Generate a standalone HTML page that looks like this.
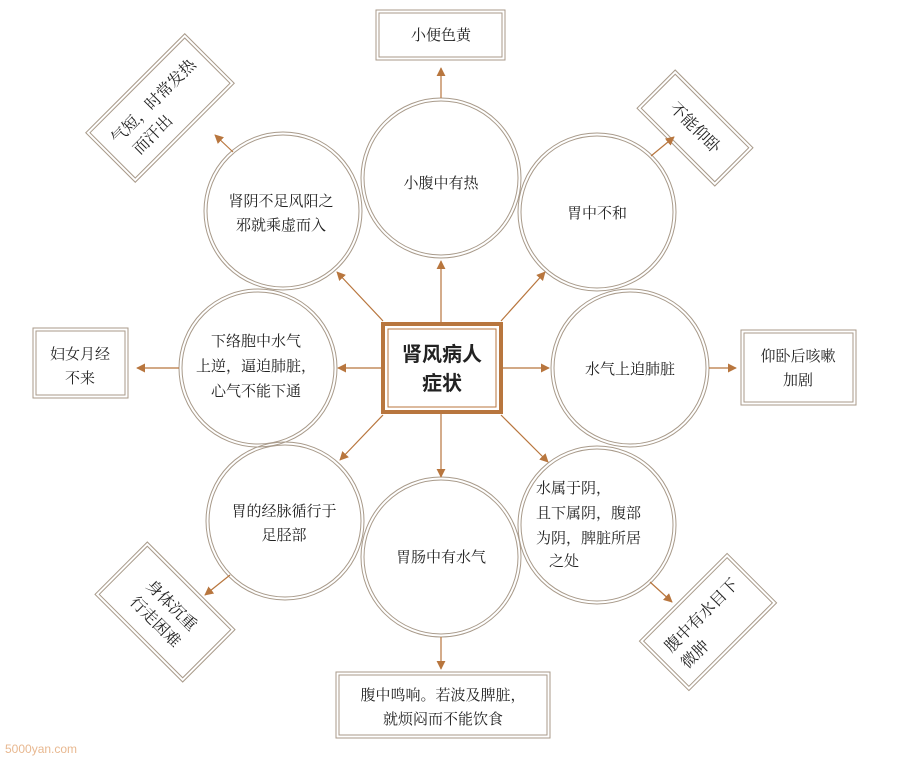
<!DOCTYPE html>
<html><head><meta charset="utf-8"><style>
body{margin:0;background:#fff;width:900px;height:762px;overflow:hidden}
text{font-family:"Liberation Serif","Noto Serif CJK SC",serif;font-size:15px;fill:#222}
</style></head><body>
<svg width="900" height="762" viewBox="0 0 900 762">
<defs><marker id="a" viewBox="0 0 10 10" refX="9" refY="5" markerWidth="9" markerHeight="9" orient="auto-start-reverse" markerUnits="userSpaceOnUse"><path d="M0,0 L10,5 L0,10 z" fill="#b8763e"/></marker></defs>
<g fill="none" stroke="#a89a8a" stroke-width="1">
<circle cx="441" cy="178" r="80"/><circle cx="441" cy="178" r="77"/>
<circle cx="283" cy="211" r="79"/><circle cx="283" cy="211" r="76"/>
<circle cx="597" cy="212" r="79"/><circle cx="597" cy="212" r="76"/>
<circle cx="258" cy="368" r="79"/><circle cx="258" cy="368" r="76"/>
<circle cx="630" cy="368" r="79"/><circle cx="630" cy="368" r="76"/>
<circle cx="285" cy="521" r="79"/><circle cx="285" cy="521" r="76"/>
<circle cx="441" cy="557" r="80"/><circle cx="441" cy="557" r="77"/>
<circle cx="597" cy="525" r="79"/><circle cx="597" cy="525" r="76"/>
<rect x="376" y="10" width="129" height="50"/><rect x="379" y="13" width="123" height="44"/>
<rect x="33" y="328" width="95" height="70"/><rect x="36" y="331" width="89" height="64"/>
<rect x="741" y="330" width="115" height="75"/><rect x="744" y="333" width="109" height="69"/>
<rect x="336" y="672" width="214" height="66"/><rect x="339" y="675" width="208" height="60"/>
<g transform="translate(160,108) rotate(-45)"><rect x="-70" y="-35" width="140" height="70"/><rect x="-67" y="-32" width="134" height="64"/></g>
<g transform="translate(695,128) rotate(45)"><rect x="-55" y="-27" width="110" height="54"/><rect x="-52" y="-24" width="104" height="48"/></g>
<g transform="translate(165,612) rotate(45)"><rect x="-62" y="-37" width="124" height="74"/><rect x="-59" y="-34" width="118" height="68"/></g>
<g transform="translate(708,622) rotate(-45)"><rect x="-62" y="-35" width="124" height="70"/><rect x="-59" y="-32" width="118" height="64"/></g>
</g>
<g stroke="#b8763e" stroke-width="1.2" marker-end="url(#a)">
<line x1="441" y1="322" x2="441" y2="261"/>
<line x1="381" y1="368" x2="338" y2="368"/>
<line x1="503" y1="368" x2="549" y2="368"/>
<line x1="441" y1="414" x2="441" y2="477"/>
<line x1="383" y1="321" x2="337" y2="272"/>
<line x1="501" y1="321" x2="545" y2="272"/>
<line x1="383" y1="415" x2="340" y2="460"/>
<line x1="501" y1="415" x2="548" y2="462"/>
<line x1="441" y1="98" x2="441" y2="68"/>
<line x1="233" y1="152" x2="215" y2="135"/>
<line x1="651" y1="156" x2="674" y2="137"/>
<line x1="179" y1="368" x2="137" y2="368"/>
<line x1="709" y1="368" x2="736" y2="368"/>
<line x1="230" y1="575" x2="205" y2="595"/>
<line x1="441" y1="637" x2="441" y2="669"/>
<line x1="650" y1="582" x2="672" y2="602"/>
</g>
<rect x="383" y="324" width="118" height="88" fill="#fff" stroke="#b8763e" stroke-width="4"/>
<rect x="388" y="329" width="108" height="78" fill="none" stroke="#b8763e" stroke-width="1"/>
<text x="442" y="361" text-anchor="middle" style="font-family:'Liberation Sans','Noto Sans CJK SC',sans-serif;font-size:20px;font-weight:bold">肾风病人</text>
<text x="442" y="390" text-anchor="middle" style="font-family:'Liberation Sans','Noto Sans CJK SC',sans-serif;font-size:20px;font-weight:bold">症状</text>
<g text-anchor="middle">
<text x="441" y="40">小便色黄</text>
<text x="441" y="188">小腹中有热</text>
<text x="281" y="206">肾阴不足风阳之</text><text x="281" y="230">邪就乘虚而入</text>
<text x="597" y="218">胃中不和</text>
<text x="256" y="346">下络胞中水气</text><text x="256" y="371">上逆，逼迫肺脏，</text><text x="256" y="396">心气不能下通</text>
<text x="630" y="374">水气上迫肺脏</text>
<text x="284" y="516">胃的经脉循行于</text><text x="284" y="540">足胫部</text>
<text x="441" y="562">胃肠中有水气</text>
<text x="80" y="359">妇女月经</text><text x="80" y="383">不来</text>
<text x="798" y="361">仰卧后咳嗽</text><text x="798" y="385">加剧</text>
<text x="443" y="700">腹中鸣响。若波及脾脏，</text><text x="443" y="724">就烦闷而不能饮食</text>
</g>
<g>
<text x="536" y="493">水属于阴，</text><text x="536" y="518">且下属阴，腹部</text><text x="536" y="543">为阴，脾脏所居</text><text x="549" y="566">之处</text>
</g>
<g text-anchor="middle" style="font-size:16px">
<g transform="translate(160,108) rotate(-45)"><text x="0" y="-4" style="font-size:16px">气短，时常发热</text><text x="-24" y="19" style="font-size:16px">而汗出</text></g>
<g transform="translate(695,128) rotate(45)"><text x="0" y="5" style="font-size:16px">不能仰卧</text></g>
<g transform="translate(165,612) rotate(45)"><text x="0" y="-4" style="font-size:16px">身体沉重</text><text x="0" y="19" style="font-size:16px">行走困难</text></g>
<g transform="translate(708,622) rotate(-45)"><text x="0" y="-4" style="font-size:16px">腹中有水目下</text><text x="-32" y="19" style="font-size:16px">微肿</text></g>
</g>
<text x="5" y="753" style="font-family:'Liberation Sans',sans-serif;font-size:12px;fill:#e8b890">5000yan.com</text>
</svg>
</body></html>
